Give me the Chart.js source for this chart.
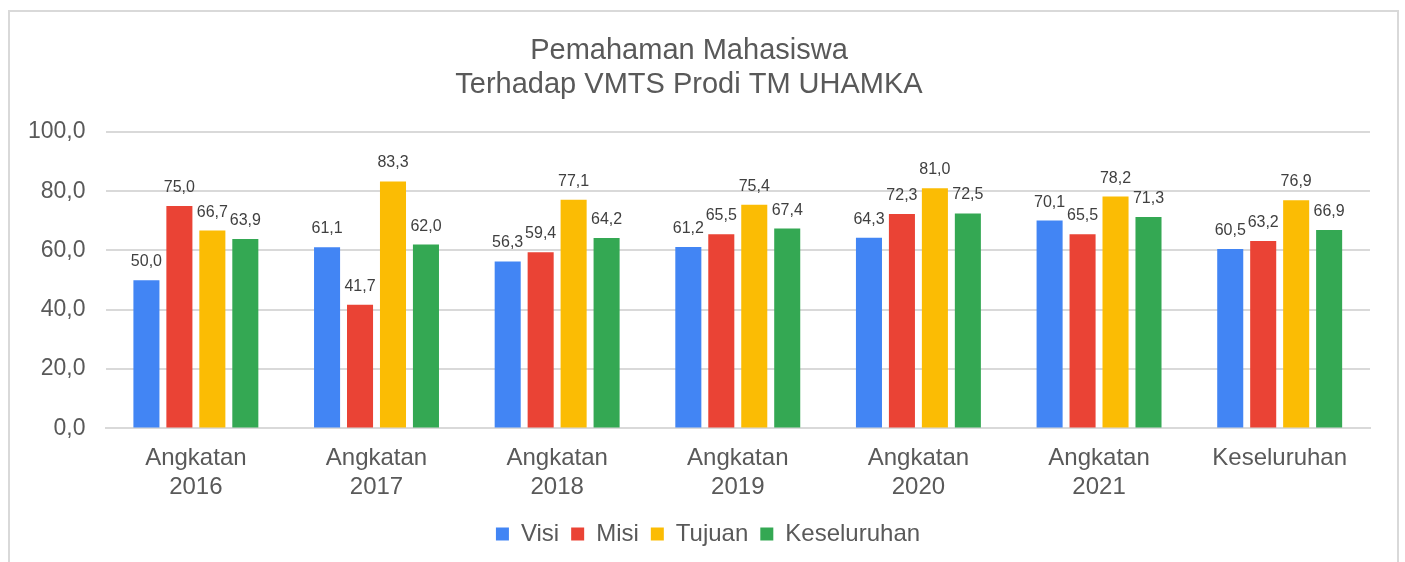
<!DOCTYPE html>
<html>
<head>
<meta charset="utf-8">
<script src="https://cdn.jsdelivr.net/npm/chart.js@4/dist/chart.umd.min.js"></script>
<style>
  html, body { margin: 0; padding: 0; background: #fff; }
  #wrap { position: relative; width: 1405px; height: 562px; }
  #frame { position: absolute; left: 8px; top: 10px; width: 1391px; height: 560px;
           border: 2px solid #d9d9d9; border-bottom: none; box-sizing: border-box; pointer-events: none; }
  canvas { position: absolute; left: 0; top: 0; }
</style>
</head>
<body>
<div id="wrap">
  <canvas id="chart" width="1405" height="562"></canvas>
  <div id="frame"></div>
</div>
<script>
// --- DATA ---
const categories = [["Angkatan", "2016"], ["Angkatan", "2017"], ["Angkatan", "2018"], ["Angkatan", "2019"], ["Angkatan", "2020"], ["Angkatan", "2021"], "Keseluruhan"];
const visi = [50.0, 61.1, 56.3, 61.2, 64.3, 70.1, 60.5];
const misi = [75.0, 41.7, 59.4, 65.5, 72.3, 65.5, 63.2];
const tujuan = [66.7, 83.3, 77.1, 75.4, 81.0, 78.2, 76.9];
const keseluruhan = [63.9, 62.0, 64.2, 67.4, 72.5, 71.3, 66.9];
const seriesNames = ["Visi", "Misi", "Tujuan", "Keseluruhan"];
const titleLines = ["Pemahaman Mahasiswa", "Terhadap VMTS Prodi TM UHAMKA"];

const fmt = v => v.toFixed(1).replace(".", ",");
const FONT = "'Liberation Sans', Arial, sans-serif";

// value labels above bars
const barLabels = {
    id: "barLabels",
    afterDatasetsDraw(chart) {
        const ctx = chart.ctx;
        ctx.save();
        ctx.font = "16px " + FONT;
        ctx.fillStyle = "#404040";
        ctx.textAlign = "center";
        ctx.textBaseline = "alphabetic";
        chart.data.datasets.forEach((ds, i) => {
            chart.getDatasetMeta(i).data.forEach((bar, j) => {
                ctx.fillText(fmt(ds.data[j]), bar.x, bar.y - 14);
            });
        });
        ctx.restore();
    }
};

// legend is centred on the whole frame, not on the plot
const legendShift = {
    id: "legendShift",
    afterLayout(chart) {
        if (chart.legend) { chart.legend.left += 19; chart.legend.right += 19; }
    }
};

const colors = ["#4285F4", "#EA4335", "#FBBC04", "#34A853"];
const values = [visi, misi, tujuan, keseluruhan];

new Chart(document.getElementById("chart"), {
    type: "bar",
    data: {
        labels: categories,
        datasets: values.map((d, i) => ({
            label: seriesNames[i], data: d, backgroundColor: colors[i],
            barPercentage: 0.79, categoryPercentage: 0.73
        }))
    },
    options: {
        responsive: false,
        animation: false,
        layout: { padding: { left: 8, right: 35, top: 18, bottom: 6 } },
        plugins: {
            title: {
                display: true, text: titleLines, color: "#595959",
                font: { family: FONT, size: 29, weight: "normal", lineHeight: 1.17 },
                padding: { top: 16, bottom: 30 }
            },
            legend: {
                position: "bottom",
                labels: { color: "#595959", boxWidth: 13, boxHeight: 13, padding: 12,
                          font: { family: FONT, size: 24 } }
            },
            tooltip: { enabled: false }
        },
        scales: {
            y: {
                min: 0, max: 100,
                ticks: { stepSize: 20, color: "#595959", padding: 20,
                         font: { family: FONT, size: 23 }, callback: v => fmt(v) },
                grid: { color: "#d9d9d9", lineWidth: 2, drawTicks: false },
                border: { display: false }
            },
            x: {
                ticks: { color: "#595959", padding: 8, maxRotation: 0,
                         font: { family: FONT, size: 24, lineHeight: 1.2 } },
                grid: { display: false },
                border: { color: "#d9d9d9", width: 2 }
            }
        }
    },
    plugins: [barLabels, legendShift]
});
</script>
</body>
</html>
